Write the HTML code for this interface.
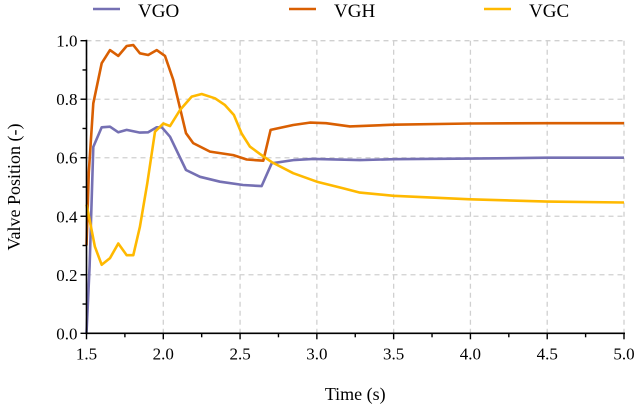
<!DOCTYPE html>
<html><head><meta charset="utf-8"><style>
body{margin:0;background:#fff}
svg{display:block;font-family:"Liberation Serif",serif}
</style></head><body>
<svg id="chart" width="640" height="409"></svg>
<script>
const xTicks=[1.5,2.0,2.5,3.0,3.5,4.0,4.5,5.0];
const yTicks=[0.0,0.2,0.4,0.6,0.8,1.0];
const seriesNames=["VGO","VGH","VGC"];
const seriesColors=["#7570b3","#d95f02","#ffb900"];
const vgoT=[1.5,1.52,1.544,1.599,1.653,1.707,1.762,1.848,1.902,1.957,1.99,2.044,2.148,2.239,2.369,2.52,2.64,2.706,2.846,2.977,3.28,3.5,4.0,4.5,5.0];
const vgoV=[0,0.228,0.637,0.704,0.706,0.687,0.695,0.686,0.687,0.704,0.704,0.672,0.558,0.535,0.518,0.507,0.503,0.581,0.592,0.596,0.592,0.595,0.597,0.6,0.6];
const vghT=[1.5,1.515,1.544,1.599,1.653,1.707,1.762,1.805,1.848,1.902,1.957,2.011,2.065,2.148,2.195,2.304,2.456,2.543,2.651,2.699,2.846,2.955,3.06,3.215,3.5,4.0,4.5,5.0];
const vghV=[0.3,0.55,0.786,0.923,0.968,0.948,0.982,0.985,0.957,0.951,0.968,0.948,0.866,0.684,0.65,0.621,0.609,0.594,0.59,0.695,0.712,0.72,0.718,0.707,0.713,0.717,0.718,0.718];
const vgcT=[1.5,1.512,1.555,1.599,1.653,1.707,1.762,1.805,1.848,1.896,1.946,2.0,2.044,2.109,2.185,2.25,2.337,2.402,2.46,2.51,2.564,2.629,2.706,2.846,3.0,3.17,3.28,3.5,4.0,4.5,5.0];
const vgcV=[0.44,0.41,0.296,0.234,0.257,0.307,0.267,0.267,0.364,0.513,0.689,0.717,0.708,0.763,0.809,0.818,0.803,0.78,0.746,0.683,0.638,0.613,0.585,0.547,0.518,0.496,0.481,0.47,0.458,0.45,0.447];
const X0=86.5,X1=624,Y0=333.3,Y1=40.7;
const sx=t=>X0+(t-1.5)/3.5*(X1-X0);
const sy=v=>Y0-v*(Y0-Y1);
const svg=document.getElementById('chart');
const NS='http://www.w3.org/2000/svg';
function mk(tag,attrs,parent){const e=document.createElementNS(NS,tag);for(const k in attrs)e.setAttribute(k,attrs[k]);(parent||svg).appendChild(e);return e;}
xTicks.forEach(t=>{const l=mk('line',{x1:sx(t),x2:sx(t),y1:Y1,y2:Y0,stroke:'#d0d0d0','stroke-width':1.3,'stroke-dasharray':'5,4'});

});
yTicks.forEach(v=>{const l=mk('line',{x1:X0,x2:X1,y1:sy(v),y2:sy(v),stroke:'#d0d0d0','stroke-width':1.3,'stroke-dasharray':'5,4'});

});
const sets=[[vgoT,vgoV],[vghT,vghV],[vgcT,vgcV]];
sets.forEach((s,i)=>{const d=s[0].map((t,j)=>(j?'L':'M')+sx(t).toFixed(1)+','+sy(s[1][j]).toFixed(1)).join('');
const p=mk('path',{d:d,fill:'none',stroke:seriesColors[i],'stroke-width':2.6,'stroke-linejoin':'round'});

});
const ax=mk('line',{x1:X0,x2:X0,y1:Y1-1,y2:Y0+1,stroke:'#000','stroke-width':1.6});


const bx=mk('line',{x1:X0-1,x2:X1+1,y1:Y0,y2:Y0,stroke:'#000','stroke-width':1.6});


for(let k=0;k<=14;k++){const t=1.5+k*0.25;const major=k%2==0;
mk('line',{x1:sx(t),x2:sx(t),y1:Y0,y2:Y0+(major?6:4),stroke:'#000','stroke-width':1.4});}
for(let k=0;k<=10;k++){const v=k*0.1;const major=k%2==0;
mk('line',{x1:X0,x2:X0-(major?6:4),y1:sy(v),y2:sy(v),stroke:'#000','stroke-width':1.4});}
xTicks.forEach(t=>{const e=mk('text',{x:sx(t),y:Y0+26,'text-anchor':'middle','font-size':17});e.textContent=t.toFixed(1);

});
yTicks.forEach(v=>{const e=mk('text',{x:X0-9,y:sy(v)+6,'text-anchor':'end','font-size':17});e.textContent=v.toFixed(1);

});
const xt=mk('text',{x:(X0+X1)/2,y:400,'text-anchor':'middle','font-size':18});xt.textContent='Time (s)';


const yt=mk('text',{x:0,y:0,'text-anchor':'middle','font-size':18,transform:'translate(20,'+((Y0+Y1)/2)+') rotate(-90)'});yt.textContent='Valve Position (-)';


const legX=[93,289,484];
seriesNames.forEach((n,i)=>{const g=mk('g',{});


mk('line',{x1:legX[i],x2:legX[i]+27,y1:9,y2:9,stroke:seriesColors[i],'stroke-width':2.6},g);
const t=mk('text',{x:legX[i]+45,y:17,'font-size':19},g);t.textContent=n;});
</script>
</body></html>
